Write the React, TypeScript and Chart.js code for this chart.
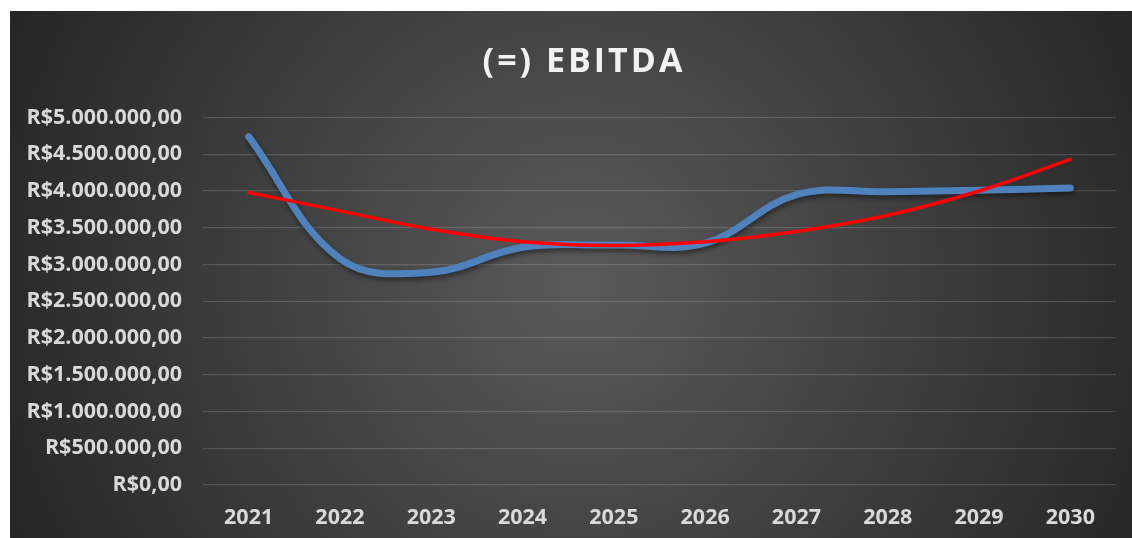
import React, { useEffect, useRef } from 'react';
import { Chart, registerables } from 'chart.js';

Chart.register(...registerables);

const categories = ['2021', '2022', '2023', '2024', '2025', '2026', '2027', '2028', '2029', '2030'];
const ebitdaValues = [4740000, 3080000, 2895000, 3235000, 3265000, 3290000, 3950000, 3990000, 4010000, 4040000];
const trendValues = [3980000, 3730000, 3480000, 3310000, 3260000, 3310000, 3450000, 3670000, 4000000, 4430000];
const yTickValues = [0, 500000, 1000000, 1500000, 2000000, 2500000, 3000000, 3500000, 4000000, 4500000, 5000000];
const titleText = '(=) EBITDA';

function formatBRL(v: number): string {
  const s = Math.round(v).toString().replace(/\B(?=(\d{3})+(?!\d))/g, '.');
  return 'R$' + s + ',00';
}

const FONT = '"Open Sans", "Noto Sans", sans-serif';

const backgroundPlugin = {
  id: 'bgPanel',
  beforeDraw(chart: any) {
    const { ctx, width, height } = chart;
    ctx.save();
    const g = ctx.createRadialGradient(570, 270, 0, 570, 270, 620);
    g.addColorStop(0, '#5a5a5a');
    g.addColorStop(1, '#262626');
    ctx.fillStyle = g;
    ctx.fillRect(0, 0, width, height);
    ctx.restore();
  },
};

const titlePlugin = {
  id: 'spacedTitle',
  afterDraw(chart: any) {
    const ctx = chart.ctx;
    ctx.save();
    ctx.font = 'bold 34px ' + FONT;
    ctx.fillStyle = '#f2f2f2';
    ctx.textAlign = 'center';
    ctx.textBaseline = 'alphabetic';
    try { (ctx as any).letterSpacing = '3px'; } catch (e) {}
    ctx.fillText(titleText, 574, 61);
    ctx.restore();
  },
};

const shadowPlugin = {
  id: 'lineShadow',
  beforeDatasetDraw(chart: any, args: any) {
    if (args.index === 0) {
      const ctx = chart.ctx;
      ctx.save();
      ctx.shadowColor = 'rgba(0,0,0,0.45)';
      ctx.shadowBlur = 5;
      ctx.shadowOffsetX = 1;
      ctx.shadowOffsetY = 3;
    }
  },
  afterDatasetDraw(chart: any, args: any) {
    if (args.index === 0) {
      chart.ctx.restore();
    }
  },
};

export default function App() {
  const ref = useRef<HTMLCanvasElement | null>(null);
  useEffect(() => {
    if (!ref.current) return;
    const chart = new Chart(ref.current, {
      type: 'line',
      data: {
        labels: categories,
        datasets: [
          {
            label: '(=) EBITDA',
            data: ebitdaValues,
            borderColor: '#4F81BD',
            backgroundColor: '#4F81BD',
            borderWidth: 7,
            tension: 0.38,
            pointRadius: 0,
            borderCapStyle: 'round',
            borderJoinStyle: 'round',
            order: 1,
          },
          {
            label: 'Tendência',
            data: trendValues,
            borderColor: '#FF0000',
            backgroundColor: '#FF0000',
            borderWidth: 3.5,
            tension: 0.4,
            pointRadius: 0,
            borderCapStyle: 'round',
            borderJoinStyle: 'round',
            order: 0,
          },
        ],
      },
      options: {
        responsive: false,
        animation: false,
        devicePixelRatio: 1,
        layout: { padding: { top: 106.5, right: 16, bottom: 0, left: 0 } },
        plugins: {
          legend: { display: false },
          tooltip: { enabled: false },
          title: { display: false },
        },
        scales: {
          x: {
            offset: true,
            grid: { display: false, drawTicks: false },
            border: { display: false },
            ticks: {
              color: '#d9d9d9',
              padding: 20,
              font: { family: FONT, size: 21.5, weight: 'bold' },
              maxRotation: 0,
            },
            afterFit(s: any) { s.height = 53; },
          },
          y: {
            min: 0,
            max: 5000000,
            afterBuildTicks(s: any) { s.ticks = yTickValues.map((v) => ({ value: v })); },
            grid: { color: 'rgba(255,255,255,0.15)', lineWidth: 1.3, drawTicks: false },
            border: { display: false },
            ticks: {
              color: '#d9d9d9',
              padding: 21,
              font: { family: FONT, size: 21.5, weight: 'bold' },
              callback: (v: any) => formatBRL(Number(v)),
            },
            afterFit(s: any) { s.width = 193; },
          },
        },
      },
      plugins: [backgroundPlugin, shadowPlugin, titlePlugin],
    } as any);
    return () => chart.destroy();
  }, []);
  return (
    <div style={{ position: 'fixed', left: 10, top: 11, width: 1122, height: 527 }}>
      <canvas ref={ref} width={1122} height={527} style={{ display: 'block' }} />
    </div>
  );
}
